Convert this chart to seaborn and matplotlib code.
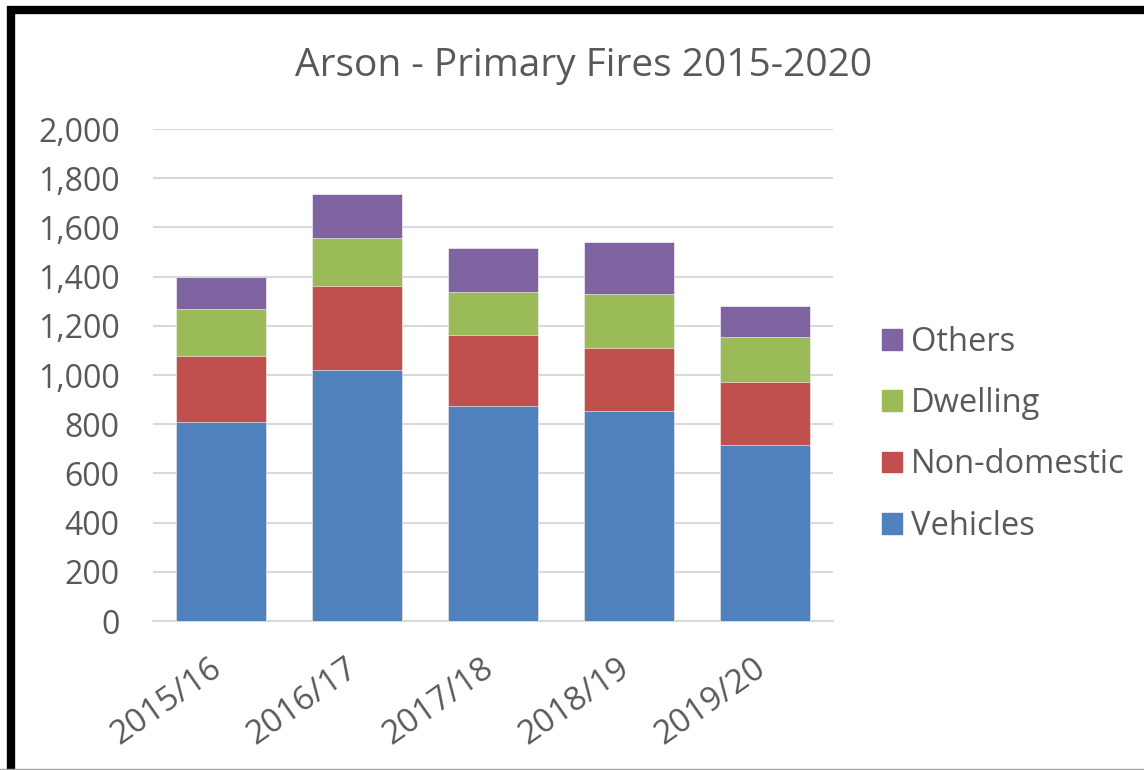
import matplotlib
matplotlib.use("Agg")
import matplotlib.pyplot as plt
import matplotlib.patches as mpatches
import matplotlib.transforms as mtransforms
from matplotlib.lines import Line2D
import seaborn as sns
import pandas as pd
import numpy as np

years = ["2015/16", "2016/17", "2017/18", "2018/19", "2019/20"]
vehicles = [810, 1020, 872, 852, 716]
non_domestic = [268, 343, 291, 258, 257]
dwelling = [190, 194, 175, 219, 180]
others = [132, 178, 178, 210, 126]

series_names = ["Vehicles", "Non-domestic", "Dwelling", "Others"]
colors = {"Vehicles": "#4F81BD", "Non-domestic": "#C0504D",
          "Dwelling": "#9BBB59", "Others": "#8064A2"}
txt = "#595959"

sns.set_theme(style="white")
plt.rcParams['font.family'] = ['Open Sans', 'DejaVu Sans']

df = pd.DataFrame({"year": years, "Vehicles": vehicles,
                   "Non-domestic": non_domestic, "Dwelling": dwelling,
                   "Others": others})
cum = df[series_names].cumsum(axis=1)

fig = plt.figure(figsize=(11.44, 7.70), dpi=100)
ax = fig.add_axes([153/1144, 1-621/770, (833-153)/1144, (621-129)/770])

for name in reversed(series_names):
    sns.barplot(x=df["year"], y=cum[name], color=colors[name], width=0.655,
                saturation=1, ax=ax, zorder=3, edgecolor="white", linewidth=0.4)

ax.set_ylim(0, 2000)
ax.set_xlim(-0.5, 4.5)
ax.set_yticks(range(0, 2001, 200))
ax.set_yticklabels([f"{v:,}" for v in range(0, 2001, 200)])
ax.yaxis.grid(True, color="#D9D9D9", linewidth=1.5, zorder=0)
ax.set_axisbelow(True)
for s in ["top", "right", "left"]:
    ax.spines[s].set_visible(False)
ax.spines["bottom"].set_color("#D9D9D9")
ax.spines["bottom"].set_linewidth(1.5)
ax.set_xlabel("")
ax.set_ylabel("")
ax.tick_params(axis="y", length=0, labelsize=23, colors=txt, pad=24)
ax.tick_params(axis="x", length=0, labelsize=24, colors=txt, pad=22)
shift = mtransforms.ScaledTranslation(-12/100, 0, fig.dpi_scale_trans)
for lab in ax.get_xticklabels():
    lab.set_rotation(35)
    lab.set_ha("right")
    lab.set_rotation_mode("anchor")
    lab.set_transform(lab.get_transform() + shift)

fig.text(0.51, 0.914, "Arson - Primary Fires 2015-2020", ha="center", va="center",
         fontsize=28, color=txt)

handles = [mpatches.Patch(color=colors[n], label=n) for n in reversed(series_names)]
fig.legend(handles=handles, loc="center left", bbox_to_anchor=(0.745, 0.436),
           frameon=False, fontsize=23.5, labelcolor=txt, handlelength=0.61,
           handleheight=0.61, handletextpad=0.3, labelspacing=0.87)

fig.add_artist(Line2D([7/1144, 1], [1-10/770, 1-10/770], color="black", linewidth=6,
                      transform=fig.transFigure, solid_capstyle="butt"))
fig.add_artist(Line2D([11/1144, 11/1144], [0, 1-6/770], color="black", linewidth=6,
                      transform=fig.transFigure, solid_capstyle="butt"))
fig.add_artist(Line2D([0, 1], [1/770, 1/770], color="#A0A0A0", linewidth=1,
                      transform=fig.transFigure))

fig.savefig("out.png", dpi=100)
